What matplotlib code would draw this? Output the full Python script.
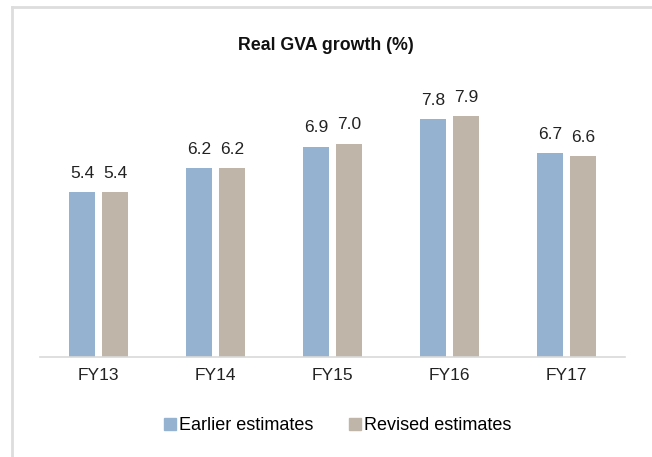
import matplotlib
matplotlib.use("Agg")
import matplotlib.pyplot as plt
import numpy as np
from matplotlib.lines import Line2D

plt.rcParams['font.family'] = ['Liberation Sans', 'DejaVu Sans']

years = ["FY13", "FY14", "FY15", "FY16", "FY17"]
earlier = [5.4, 6.2, 6.9, 7.8, 6.7]
revised = [5.4, 6.2, 7.0, 7.9, 6.6]

c_earlier = "#95B3D0"
c_revised = "#BFB6A9"

fig = plt.figure(figsize=(6.52, 4.57), dpi=100)
ax = fig.add_axes([40/652, 100/457, 585/652, 274.5/457])

x = np.arange(len(years))
w = 0.222
off = 0.141
b1 = ax.bar(x - off, earlier, w, color=c_earlier)
b2 = ax.bar(x + off, revised, w, color=c_revised)

for bars, vals in ((b1, earlier), (b2, revised)):
	for b, v in zip(bars, vals):
		ax.annotate("%.1f" % v, (b.get_x() + b.get_width()/2, v), xytext=(0, 8),
			textcoords="offset points", ha="center", va="bottom", fontsize=12.5, color="#222222")

ax.set_xlim(-0.5, len(years) - 0.5)
ax.set_ylim(0, 9)
ax.set_yticks([])
ax.set_xticks(x)
ax.set_xticklabels(years, fontsize=12.5, color="#222222")
ax.tick_params(axis="x", length=0, pad=8)
for s in ["top", "right", "left"]:
	ax.spines[s].set_visible(False)
ax.spines["bottom"].set_color("#D9D9D9")
ax.spines["bottom"].set_linewidth(1.2)

fig.text(0.5, 1 - 45/457, "Real GVA growth (%)", ha="center", va="center",
	fontsize=12.8, fontweight="bold", color="#111111")

handles = [Line2D([], [], marker="s", linestyle="none", markersize=8, color=c_earlier),
	Line2D([], [], marker="s", linestyle="none", markersize=8, color=c_revised)]
fig.legend(handles, ["Earlier estimates", "Revised estimates"], loc="center",
	bbox_to_anchor=(336/652, 1 - 426/457), ncol=2, frameon=False, fontsize=13,
	handletextpad=0.0, columnspacing=1.8, handlelength=1.0)

# light frame on the left and top edges
fig.add_artist(Line2D([11.5/652, 11.5/652], [0, 1 - 6.5/457], transform=fig.transFigure,
	color="#DDDDDD", linewidth=2))
fig.add_artist(Line2D([11.5/652, 1], [1 - 6.5/457, 1 - 6.5/457], transform=fig.transFigure,
	color="#DDDDDD", linewidth=2))

fig.savefig("out.png", dpi=100)
